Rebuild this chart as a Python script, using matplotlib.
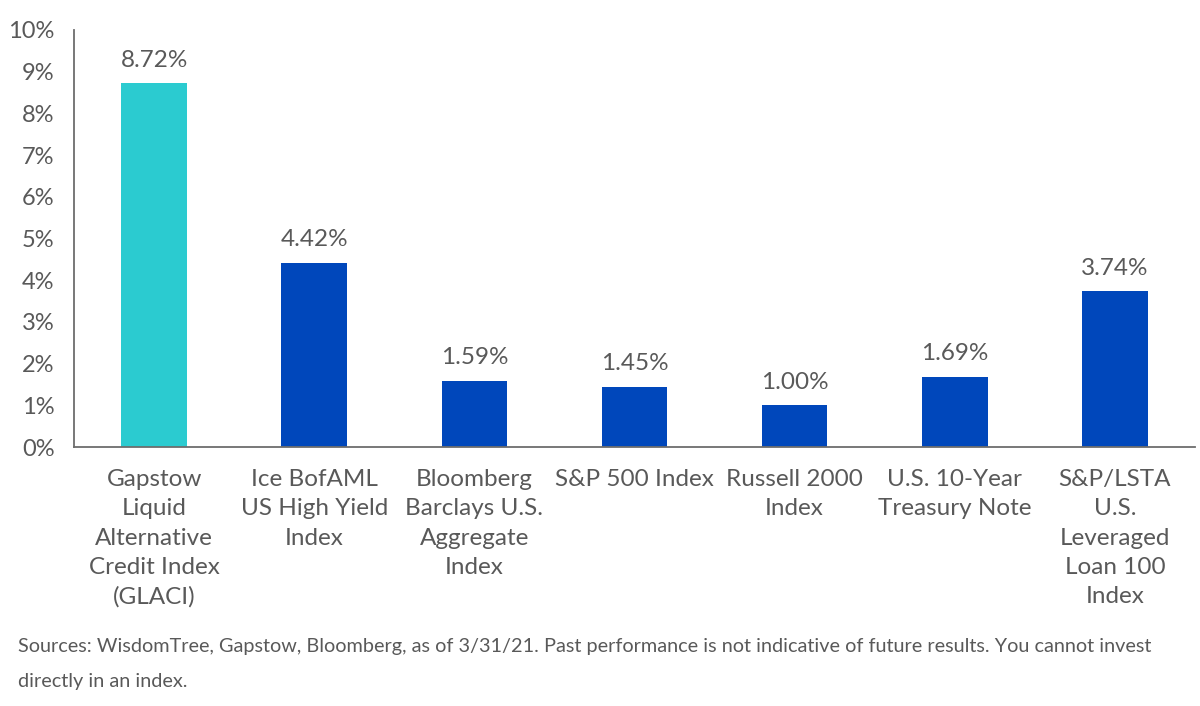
import matplotlib.pyplot as plt
from matplotlib import ticker

categories = ["Gapstow\nLiquid\nAlternative\nCredit Index\n(GLACI)",
              "Ice BofAML\nUS High Yield\nIndex",
              "Bloomberg\nBarclays U.S.\nAggregate\nIndex",
              "S&P 500 Index",
              "Russell 2000\nIndex",
              "U.S. 10-Year\nTreasury Note",
              "S&P/LSTA\nU.S.\nLeveraged\nLoan 100\nIndex"]
values = [8.72, 4.42, 1.59, 1.45, 1.00, 1.69, 3.74]
value_labels = ["8.72%", "4.42%", "1.59%", "1.45%", "1.00%", "1.69%", "3.74%"]
yticks = [0, 1, 2, 3, 4, 5, 6, 7, 8, 9, 10]
note = ("Sources: WisdomTree, Gapstow, Bloomberg, as of 3/31/21. Past performance is not indicative of future results. You cannot invest\n"
        "directly in an index.")

grey = "#595959"
colors = ["#2BCBD0"] + ["#0047BB"] * 6

plt.rcParams['font.family'] = ['Lato', 'DejaVu Sans']

fig = plt.figure(figsize=(12, 7.06), dpi=100)
ax = fig.add_axes([74/1200, 1 - 447/706, 1121/1200, 417/706])

x = list(range(len(categories)))
ax.bar(x, values, width=0.41, color=colors)
for xi, v, lab in zip(x, values, value_labels):
    ax.text(xi, v + 0.3, lab, ha="center", va="bottom", fontsize=17.5, color=grey)

ax.set_xlim(-0.5, len(categories) - 0.5)
ax.set_ylim(0, 10)
ax.set_yticks(yticks)
ax.yaxis.set_major_formatter(ticker.FuncFormatter(lambda v, p: "%d%%" % v))
ax.set_xticks(x)
ax.set_xticklabels(categories, fontsize=17.5, color=grey, linespacing=1.48, va="top")
ax.tick_params(axis="x", length=0, pad=16)
ax.tick_params(axis="y", length=0, pad=14, labelsize=17, labelcolor=grey)
for s in ["top", "right"]:
    ax.spines[s].set_visible(False)
for s in ["left", "bottom"]:
    ax.spines[s].set_color("#6d6d6d")
    ax.spines[s].set_linewidth(1.3)

fig.text(18/1200, 1 - 638/706, note, fontsize=14.3, color=grey, va="top", ha="left", linespacing=2.25)

fig.savefig("out.png", dpi=100)
